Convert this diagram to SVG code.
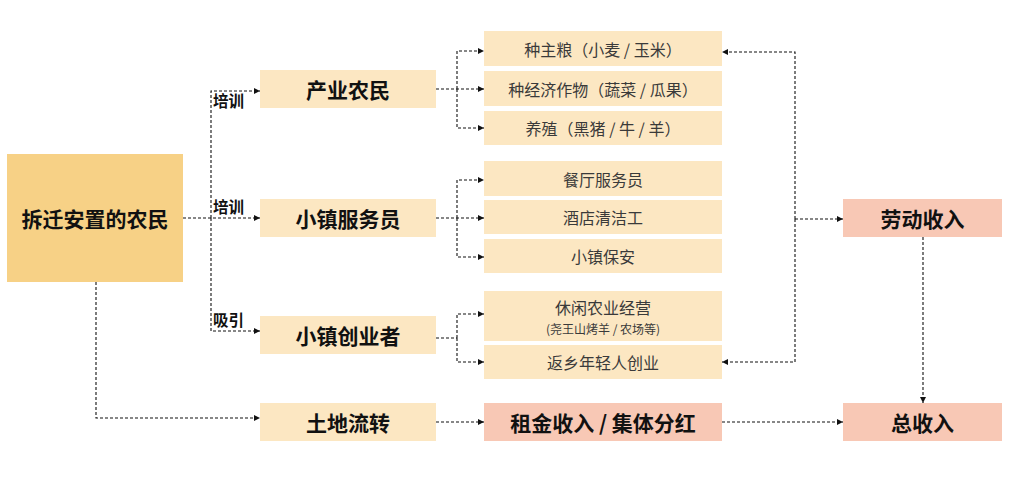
<svg xmlns="http://www.w3.org/2000/svg" width="1011" height="481" viewBox="0 0 1011 481">
<defs>
<marker id="arr" markerWidth="6" markerHeight="6" refX="6" refY="3" orient="auto" markerUnits="userSpaceOnUse">
<path d="M0,0 L6,3 L0,6 z" fill="#111"/>
</marker>
<style>
.t{font-family:"Noto Sans CJK SC","Liberation Sans",sans-serif;text-anchor:middle;dominant-baseline:central}
.b{font-weight:700;font-size:21px;fill:#111}
.r{font-size:16px;fill:#3a3a3a}
.s{font-size:12px;fill:#3a3a3a}
.lab{font-family:"Noto Sans CJK SC","Liberation Sans",sans-serif;font-weight:700;font-size:15.5px;fill:#111;dominant-baseline:central}
.main{fill:#F7D186}
.lt{fill:#FCE7C2}
.pk{fill:#F8C8B5}
.c path{fill:none;stroke:#111;stroke-width:1.1;stroke-dasharray:3 2}
.c .a{marker-end:url(#arr)}
</style>
</defs>
<rect width="1011" height="481" fill="#fff"/>

<g class="c" id="connectors">
<path class="a" d="M183,218 H260"/>
<path class="a" d="M211,218 V91 H260"/>
<path class="a" d="M211,218 V331 H260"/>
<path class="a" d="M96,282 V418 H260"/>
<path class="a" d="M436,89 H484"/>
<path class="a" d="M457,89 V51 H484"/>
<path class="a" d="M457,89 V128 H484"/>
<path class="a" d="M436,218 H484"/>
<path class="a" d="M457,218 V180 H484"/>
<path class="a" d="M457,218 V257 H484"/>
<path d="M436,338 H457"/>
<path class="a" d="M457,338 V314 H484"/>
<path class="a" d="M457,338 V362 H484"/>
<path class="a" d="M436,422 H484"/>
<path class="a" d="M722,422 H843"/>
<path class="a" d="M795,219 V52 H722"/>
<path class="a" d="M795,219 V362 H722"/>
<path class="a" d="M795,219 H843"/>
<path class="a" d="M923,237 V403"/>
</g>

<g id="labels">
<text class="lab" x="213" y="100">培训</text>
<text class="lab" x="213" y="206">培训</text>
<text class="lab" x="213" y="319">吸引</text>
</g>

<g id="n-main"><rect class="main" x="7" y="154" width="176" height="128"/><text class="t b" x="95" y="218">拆迁安置的农民</text></g>

<g id="n-cyny"><rect class="lt" x="260" y="70" width="176" height="38"/><text class="t b" x="348" y="89">产业农民</text></g>
<g id="n-xzfwy"><rect class="lt" x="260" y="199" width="176" height="38"/><text class="t b" x="348" y="218">小镇服务员</text></g>
<g id="n-xzcyz"><rect class="lt" x="260" y="316" width="176" height="38"/><text class="t b" x="348" y="335">小镇创业者</text></g>
<g id="n-tdlz"><rect class="lt" x="260" y="403" width="176" height="38"/><text class="t b" x="348" y="422">土地流转</text></g>

<g id="n-zzl"><rect class="lt" x="484" y="31" width="238" height="35"/><text class="t r" x="603" y="48.5">种主粮（小麦 / 玉米）</text></g>
<g id="n-zjj"><rect class="lt" x="484" y="71" width="238" height="35"/><text class="t r" x="603" y="88.5">种经济作物（蔬菜 / 瓜果）</text></g>
<g id="n-yz"><rect class="lt" x="484" y="111" width="238" height="34"/><text class="t r" x="603" y="128">养殖（黑猪 / 牛 / 羊）</text></g>

<g id="n-ct"><rect class="lt" x="484" y="161" width="238" height="35"/><text class="t r" x="603" y="178.5">餐厅服务员</text></g>
<g id="n-jd"><rect class="lt" x="484" y="200" width="238" height="34"/><text class="t r" x="603" y="217">酒店清洁工</text></g>
<g id="n-ba"><rect class="lt" x="484" y="239" width="238" height="34"/><text class="t r" x="603" y="256">小镇保安</text></g>

<g id="n-xx"><rect class="lt" x="484" y="291" width="238" height="50"/><text class="t r" x="603" y="307">休闲农业经营</text><text class="t s" x="603" y="328.5">(尧王山烤羊 / 农场等)</text></g>
<g id="n-fx"><rect class="lt" x="484" y="345" width="238" height="34"/><text class="t r" x="603" y="362">返乡年轻人创业</text></g>

<g id="n-zj"><rect class="pk" x="484" y="403" width="238" height="38"/><text class="t b" x="603" y="422">租金收入 / 集体分红</text></g>

<g id="n-ld"><rect class="pk" x="843" y="199" width="159" height="38"/><text class="t b" x="922.5" y="218">劳动收入</text></g>
<g id="n-zsr"><rect class="pk" x="843" y="403" width="159" height="38"/><text class="t b" x="922.5" y="422">总收入</text></g>
</svg>
